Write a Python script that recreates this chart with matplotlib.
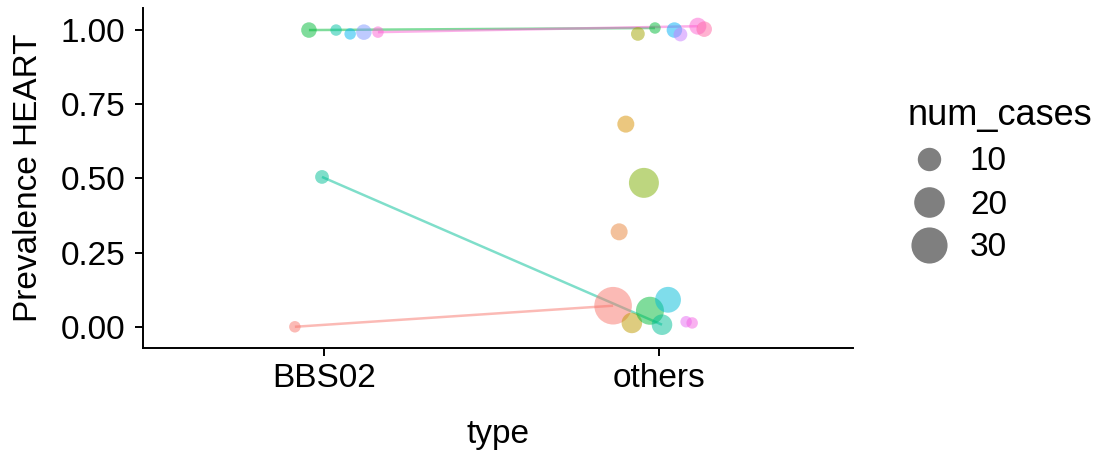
import matplotlib
matplotlib.use("Agg")
import matplotlib.pyplot as plt
from matplotlib.lines import Line2D
import numpy as np

plt.rcParams['font.family'] = ['Liberation Sans', 'DejaVu Sans']

# ==================== Data ====================
types = ["BBS02", "others"]

# BBS02 points
bbs_group = ["g_green", "g_teal2", "g_blue2", "g_peri", "g_pink", "g_teal", "g_salmon"]
bbs_color = ["#00BA38", "#00C1A3", "#00B4F0", "#7F96FF", "#FC61D5", "#00BF96", "#F8766D"]
bbs_jitter = [-0.045, 0.036, 0.078, 0.119, 0.161, -0.006, -0.087]
bbs_prev = [1.000, 1.000, 0.987, 0.993, 0.993, 0.505, 0.000]
bbs_cases = [3, 1, 1, 3, 1, 2, 1]

# others points
oth_group = ["g_olive", "g_green", "g_blue", "g_lav", "g_pink", "g_pinkred",
             "g_gold", "g_lime", "g_orange", "g_salmon", "g_mustard", "g_green2",
             "g_cyan", "g_teal", "g_violet", "g_magenta"]
oth_color = ["#A3A500", "#00BA38", "#00B0F6", "#C77CFF", "#FD61D1", "#FF67A4",
             "#D89000", "#7CAE00", "#E8853A", "#F8766D", "#BF9B00", "#00BA38",
             "#00BCD8", "#00BF96", "#E76BF3", "#F564E3"]
oth_jitter = [-0.063, -0.012, 0.046, 0.064, 0.116, 0.135,
              -0.099, -0.045, -0.119, -0.137, -0.081, -0.027,
              0.027, 0.009, 0.081, 0.099]
oth_prev = [0.987, 1.007, 1.000, 0.985, 1.013, 1.003,
            0.683, 0.485, 0.320, 0.071, 0.013, 0.054,
            0.091, 0.007, 0.017, 0.013]
oth_cases = [2, 1, 3, 2, 4, 3,
             4, 19, 4, 33, 7, 16,
             13, 7, 1, 1]

legend_cases = [10, 20, 30]


def diam_pt(n):
    # point diameter (points) from num_cases, area-like scale
    d_px = 6 + 5.5 * np.sqrt(np.asarray(n, dtype=float))
    return d_px * 0.72


fig = plt.figure(figsize=(11.01, 4.5), dpi=100)
ax = fig.add_axes([0.13, 0.227, 0.645, 0.755])

# lines for groups present in both types
for gi, g in enumerate(bbs_group):
    if g in oth_group:
        oi = oth_group.index(g)
        ax.plot([0 + bbs_jitter[gi], 1 + oth_jitter[oi]], [bbs_prev[gi], oth_prev[oi]],
                color=bbs_color[gi], alpha=0.5, lw=1.8, solid_capstyle='butt', zorder=2)

ax.scatter(np.array(bbs_jitter) + 0, bbs_prev, s=diam_pt(bbs_cases) ** 2,
           c=bbs_color, alpha=0.5, linewidths=0, zorder=3)
ax.scatter(np.array(oth_jitter) + 1, oth_prev, s=diam_pt(oth_cases) ** 2,
           c=oth_color, alpha=0.5, linewidths=0, zorder=3)

ax.set_xlim(-0.54, 1.58)
ax.set_ylim(-0.071, 1.074)
ax.set_xticks([0, 1])
ax.set_xticklabels(types)
ax.set_yticks([0, 0.25, 0.5, 0.75, 1.0])
ax.set_yticklabels(["0.00", "0.25", "0.50", "0.75", "1.00"])

for side in ['top', 'right']:
    ax.spines[side].set_visible(False)
for side in ['left', 'bottom']:
    ax.spines[side].set_linewidth(1.4)
ax.tick_params(axis='both', labelsize=24, length=6, width=1.4, colors='black', pad=5)
ax.tick_params(axis='y', pad=7)

ax.set_xlabel("type", fontsize=24, labelpad=18)
ax.set_ylabel("Prevalence HEART", fontsize=24, labelpad=12)

# size legend
fig.text(908 / 1101, 1 - 125 / 450, "num_cases", fontsize=26, ha='left', va='baseline')
handles = [Line2D([], [], ls='none', marker='o', markersize=diam_pt(n),
                  markerfacecolor='#7f7f7f', markeredgewidth=0) for n in legend_cases]
leg = fig.legend(handles, [str(n) for n in legend_cases],
                 loc='center left', bbox_to_anchor=(908 / 1101, 1 - 205 / 450), frameon=False,
                 fontsize=24, labelspacing=0.36,
                 handletextpad=0.6, handlelength=1.26, borderpad=0, borderaxespad=0)

fig.savefig("out.png", dpi=100)
